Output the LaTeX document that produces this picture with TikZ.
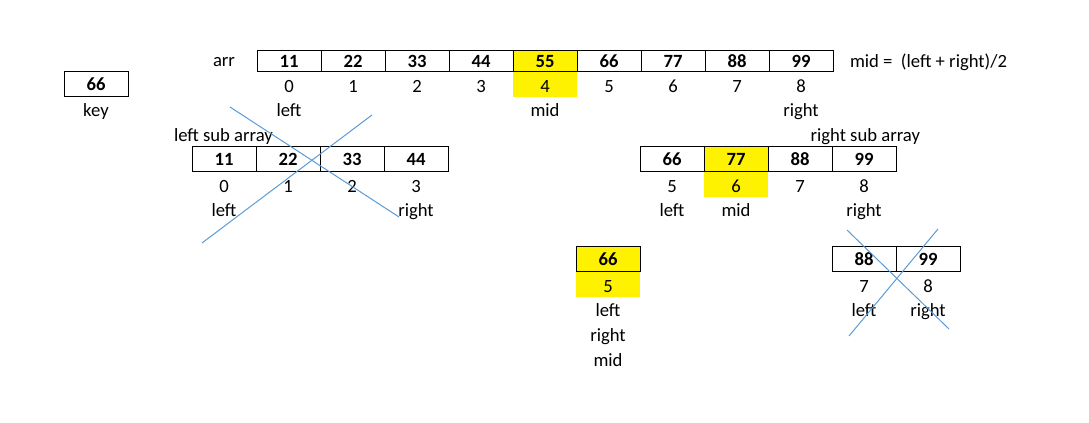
\documentclass[tikz,border=0pt]{standalone}
\usepackage{fontspec}
\setmainfont{Carlito}
\begin{document}
\begin{tikzpicture}[x=0.75pt,y=-0.75pt,
  every node/.style={font=\fontsize{14pt}{16pt}\selectfont, inner sep=0pt, outer sep=0pt},
  cell/.style={draw=black, line width=0.75pt, minimum width=48pt, minimum height=18.75pt, font=\fontsize{14pt}{16pt}\selectfont\bfseries},
  hl/.style={fill=yellow},
  idxbox/.style={minimum width=48pt, minimum height=18.75pt},
  lbl/.style={anchor=base},
  cross/.style={draw=crossblue, line width=0.75pt}]
\definecolor{crossblue}{RGB}{91,155,213}
\useasboundingbox (0,0) rectangle (1089,423);

% key
\node[cell] (key) at (96,84.5) {66};
\node[lbl] (keylbl) at (96,116.5) {key};

% main array
\node (arrlbl) at (224,62) {arr};
\foreach \v [count=\i from 0] in {11,22,33,44,55,66,77,88,99}{
  \node[cell, minimum height=15.75pt] (a\i) at (289+64*\i,61.5) {\v};
}
\node[cell, hl, minimum height=15.75pt] (a4) at (545,61.5) {55};
\node[idxbox, hl] (ai4box) at (545,84.5) {};
\foreach \i in {0,...,8}{
  \node[lbl] (ai\i) at (289+64*\i,92.3) {\i};
}
\node[lbl] (aleft) at (289,116.5) {left};
\node[lbl] (amid) at (545,116.5) {mid};
\node[lbl] (aright) at (801,116.5) {right};
\node[anchor=west] (formula) at (850,62) {mid =\ \ (left + right)/2};

% left sub array
\node[anchor=base west] (lsub) at (174,141.5) {left sub array};
\foreach \v [count=\i from 0] in {11,22,33,44}{
  \node[cell] (l\i) at (224+64*\i,159.5) {\v};
  \node[lbl] (li\i) at (224+64*\i,192.5) {\i};
}
\node[lbl] (lleft) at (224,216.5) {left};
\node[lbl] (lright) at (416,216.5) {right};

% right sub array
\node[anchor=base east] (rsub) at (920,141.5) {right sub array};
\node[idxbox, hl] (ri6box) at (736,184.5) {};
\foreach \v [count=\i from 5] in {66,77,88,99}{
  \node[cell] (r\i) at (64*\i+352,159.5) {\v};
  \node[lbl] (ri\i) at (64*\i+352,192.5) {\i};
}
\node[cell, hl] (r6) at (736,159.5) {77};
\node[lbl] (rleft) at (672,216.5) {left};
\node[lbl] (rmid) at (736,216.5) {mid};
\node[lbl] (rright) at (864,216.5) {right};

% single element
\node[cell, hl] (s5) at (608,259.5) {66};
\node[idxbox, hl] (si5box) at (608,284.5) {};
\node[lbl] (si5) at (608,292.3) {5};
\node[lbl] (sleft) at (608,316.7) {left};
\node[lbl] (sright) at (608,341.5) {right};
\node[lbl] (smid) at (608,366.7) {mid};

% 88 99 pair
\node[cell] (p7) at (864,259.5) {88};
\node[cell] (p8) at (928,259.5) {99};
\node[lbl] (pi7) at (864,292.3) {7};
\node[lbl] (pi8) at (928,292.3) {8};
\node[lbl] (pleft) at (864,316.7) {left};
\node[lbl] (pright) at (928,316.7) {right};

% crosses
\coordinate (c1a) at (230,107);
\coordinate (c1b) at (399,217);
\coordinate (c2a) at (372,115);
\coordinate (c2b) at (202,243);
\draw[cross] (c1a) -- (c1b);
\draw[cross] (c2a) -- (c2b);
\coordinate (c3a) at (847,230);
\coordinate (c3b) at (949,329);
\coordinate (c4a) at (938,229);
\coordinate (c4b) at (849,336);
\draw[cross] (c3a) -- (c3b);
\draw[cross] (c4a) -- (c4b);
\end{tikzpicture}
\end{document}
